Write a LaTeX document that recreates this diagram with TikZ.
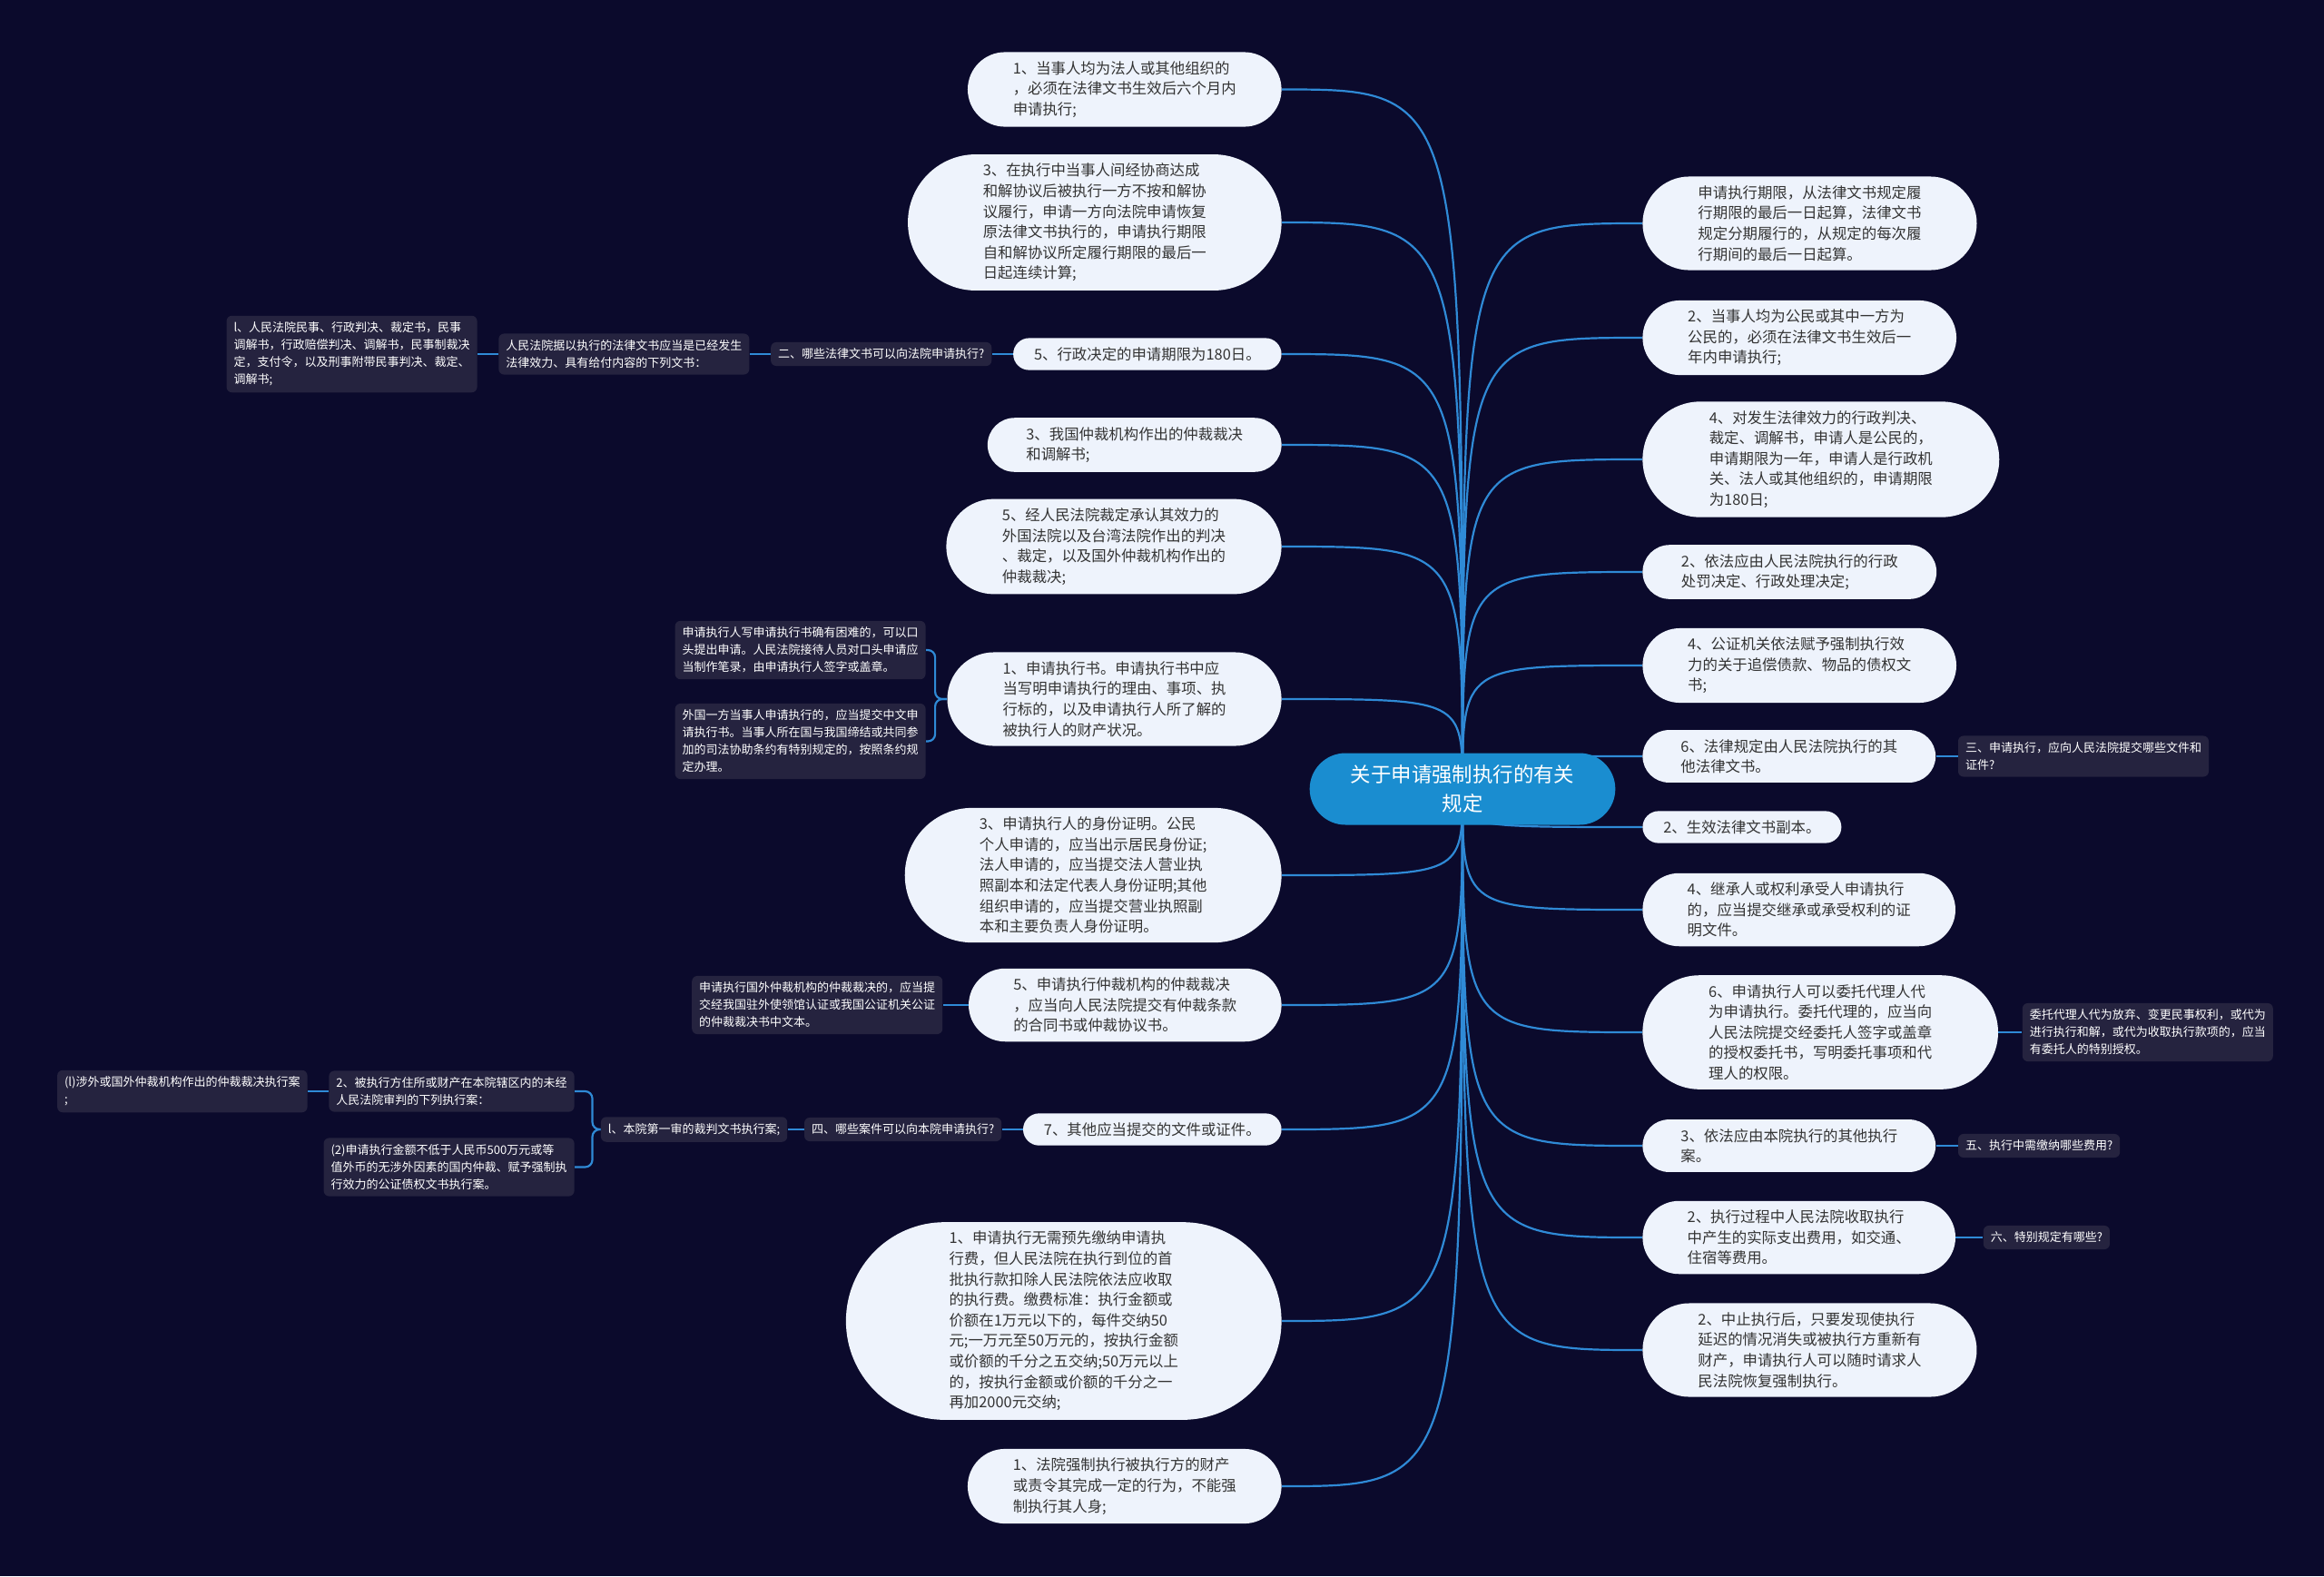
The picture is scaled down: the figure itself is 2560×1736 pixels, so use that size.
\documentclass[tikz,border=0pt]{standalone}
\usepackage{fontspec}
\setmainfont{Noto Sans CJK SC}
\usepackage{tikz}
\usetikzlibrary{positioning,shapes.misc}
\usepackage{xcolor}
\definecolor{bgnavy}{HTML}{0B0A2C}
\definecolor{pillfill}{HTML}{EEF3FC}
\definecolor{pilltext}{HTML}{333333}
\definecolor{boxfill}{HTML}{25233F}
\definecolor{linkblue}{HTML}{2F8AD6}
\definecolor{rootblue}{HTML}{1A8DD0}
\pgfdeclarelayer{back}
\pgfdeclarelayer{links}
\pgfsetlayers{back,links,main}

\begin{document}
\begin{tikzpicture}[x=0.5pt,y=-0.5pt,node distance=11.5pt,
  pill/.style={rounded rectangle,fill=pillfill,text=pilltext,inner xsep=#1,inner ysep=5pt,align=left,font=\fontsize{8.2pt}{11.3pt}\selectfont},
  qbox/.style={rectangle,rounded corners=3pt,fill=boxfill,text=white,inner xsep=4pt,inner ysep=3.5pt,align=left,font=\fontsize{6.5pt}{9.5pt}\selectfont},
  root/.style={rounded rectangle,fill=rootblue,text=white,align=center,minimum width=175pt,minimum height=39.5pt,font=\fontsize{11.2pt}{16pt}\selectfont},
  link/.style={draw=linkblue,line width=1.1pt}]
  \useasboundingbox (0,0) rectangle (2560,1736);
  \begin{pgfonlayer}{back}
    \fill[bgnavy] (0,0) rectangle (2560,1736);
  \end{pgfonlayer}

  \node[root] (root) at (1611,869) {关于申请强制执行的有关\\规定};

  % left side
  \node[pill=17.8pt,anchor=east] (l1) at (1412,98.5) {1、当事人均为法人或其他组织的\\，必须在法律文书生效后六个月内\\申请执行;};
  \node[pill=22.6pt,anchor=east] (l2) at (1412,245) {3、在执行中当事人间经协商达成\\和解协议后被执行一方不按和解协\\议履行，申请一方向法院申请恢复\\原法律文书执行的，申请执行期限\\自和解协议所定履行期限的最后一\\日起连续计算;};
  \node[pill=10.6pt,anchor=east] (l3) at (1412,390) {5、行政决定的申请期限为180日。};
  \node[qbox,left=of l3] (q2) {二、哪些法律文书可以向法院申请执行?};
  \node[qbox,left=of q2] (doc2) {人民法院据以执行的法律文书应当是已经发生\\法律效力、具有给付内容的下列文书：};
  \node[qbox,left=of doc2] (list2) {l、人民法院民事、行政判决、裁定书，民事\\调解书，行政赔偿判决、调解书，民事制裁决\\定，支付令，以及刑事附带民事判决、裁定、\\调解书;};
  \node[pill=17.5pt,anchor=east] (l4) at (1412,490) {3、我国仲裁机构作出的仲裁裁决\\和调解书;};
  \node[pill=20pt,anchor=east] (l5) at (1412,602) {5、经人民法院裁定承认其效力的\\外国法院以及台湾法院作出的判决\\、裁定，以及国外仲裁机构作出的\\仲裁裁决;};
  \node[pill=20pt,anchor=east] (l6) at (1412,770) {1、申请执行书。申请执行书中应\\当写明申请执行的理由、事项、执\\行标的，以及申请执行人所了解的\\被执行人的财产状况。};
  \node[qbox,anchor=east] (oral) at (1020,716) {申请执行人写申请执行书确有困难的，可以口\\头提出申请。人民法院接待人员对口头申请应\\当制作笔录，由申请执行人签字或盖章。};
  \node[qbox,anchor=east] (foreign) at (1020,816.5) {外国一方当事人申请执行的，应当提交中文申\\请执行书。当事人所在国与我国缔结或共同参\\加的司法协助条约有特别规定的，按照条约规\\定办理。};
  \node[pill=22.6pt,anchor=east] (l7) at (1412,964) {3、申请执行人的身份证明。公民\\个人申请的，应当出示居民身份证;\\法人申请的，应当提交法人营业执\\照副本和法定代表人身份证明;其他\\组织申请的，应当提交营业执照副\\本和主要负责人身份证明。};
  \node[pill=17.8pt,anchor=east] (l8) at (1412,1107) {5、申请执行仲裁机构的仲裁裁决\\，应当向人民法院提交有仲裁条款\\的合同书或仲裁协议书。};
  \node[qbox,left=14pt of l8] (arbtext) {申请执行国外仲裁机构的仲裁裁决的，应当提\\交经我国驻外使领馆认证或我国公证机关公证\\的仲裁裁决书中文本。};
  \node[pill=10.6pt,anchor=east] (l9) at (1412,1244) {7、其他应当提交的文件或证件。};
  \node[qbox,left=of l9] (q4) {四、哪些案件可以向本院申请执行?};
  \node[qbox,left=9pt of q4] (case1) {l、本院第一审的裁判文书执行案;};
  \node[qbox,anchor=east] (case2) at (633,1202) {2、被执行方住所或财产在本院辖区内的未经\\人民法院审判的下列执行案：};
  \node[qbox,left=of case2] (case2a) {(l)涉外或国外仲裁机构作出的仲裁裁决执行案\\;};
  \node[qbox,anchor=east] (case3) at (633,1285.5) {(2)申请执行金额不低于人民币500万元或等\\值外币的无涉外因素的国内仲裁、赋予强制执\\行效力的公证债权文书执行案。};
  \node[pill=25.2pt,anchor=east] (l10) at (1412,1455) {1、申请执行无需预先缴纳申请执\\行费，但人民法院在执行到位的首\\批执行款扣除人民法院依法应收取\\的执行费。缴费标准：执行金额或\\价额在1万元以下的，每件交纳50\\元;一万元至50万元的，按执行金额\\或价额的千分之五交纳;50万元以上\\的，按执行金额或价额的千分之一\\再加2000元交纳;};
  \node[pill=17.8pt,anchor=east] (l11) at (1412,1637) {1、法院强制执行被执行方的财产\\或责令其完成一定的行为，不能强\\制执行其人身;};

  % right side
  \node[pill=20pt,anchor=west] (r1) at (1809,246) {申请执行期限，从法律文书规定履\\行期限的最后一日起算，法律文书\\规定分期履行的，从规定的每次履\\行期间的最后一日起算。};
  \node[pill=17.8pt,anchor=west] (r2) at (1809,372) {2、当事人均为公民或其中一方为\\公民的，必须在法律文书生效后一\\年内申请执行;};
  \node[pill=22pt,anchor=west] (r3) at (1809,506) {4、对发生法律效力的行政判决、\\裁定、调解书，申请人是公民的，\\申请期限为一年，申请人是行政机\\关、法人或其他组织的，申请期限\\为180日;};
  \node[pill=17.5pt,anchor=west] (r4) at (1809,630) {2、依法应由人民法院执行的行政\\处罚决定、行政处理决定;};
  \node[pill=17.8pt,anchor=west] (r5) at (1809,733) {4、公证机关依法赋予强制执行效\\力的关于追偿债款、物品的债权文\\书;};
  \node[pill=17.5pt,anchor=west] (r6) at (1809,833) {6、法律规定由人民法院执行的其\\他法律文书。};
  \node[qbox,right=12pt of r6] (q3) {三、申请执行，应向人民法院提交哪些文件和\\证件?};
  \node[pill=10.6pt,anchor=west] (r7) at (1809,911) {2、生效法律文书副本。};
  \node[pill=17.8pt,anchor=west] (r8) at (1809,1002) {4、继承人或权利承受人申请执行\\的，应当提交继承或承受权利的证\\明文件。};
  \node[pill=22pt,anchor=west] (r9) at (1809,1137) {6、申请执行人可以委托代理人代\\为申请执行。委托代理的，应当向\\人民法院提交经委托人签字或盖章\\的授权委托书，写明委托事项和代\\理人的权限。};
  \node[qbox,right=13pt of r9] (proxy) {委托代理人代为放弃、变更民事权利，或代为\\进行执行和解，或代为收取执行款项的，应当\\有委托人的特别授权。};
  \node[pill=17.5pt,anchor=west] (r10) at (1809,1262) {3、依法应由本院执行的其他执行\\案。};
  \node[qbox,right=12pt of r10] (q5) {五、执行中需缴纳哪些费用?};
  \node[pill=17.8pt,anchor=west] (r11) at (1809,1363) {2、执行过程中人民法院收取执行\\中产生的实际支出费用，如交通、\\住宿等费用。};
  \node[qbox,right=15pt of r11] (q6) {六、特别规定有哪些?};
  \node[pill=20pt,anchor=west] (r12) at (1809,1487) {2、中止执行后，只要发现使执行\\延迟的情况消失或被执行方重新有\\财产，申请执行人可以随时请求人\\民法院恢复强制执行。};

  \begin{pgfonlayer}{links}
    % branches from the root
    \draw[link] (root.center) .. controls (root.center |- l1.east) .. (l1.east);
    \draw[link] (root.center) .. controls (root.center |- l2.east) .. (l2.east);
    \draw[link] (root.center) .. controls (root.center |- l3.east) .. (l3.east);
    \draw[link] (root.center) .. controls (root.center |- l4.east) .. (l4.east);
    \draw[link] (root.center) .. controls (root.center |- l5.east) .. (l5.east);
    \draw[link] (root.center) .. controls (root.center |- l6.east) .. (l6.east);
    \draw[link] (root.center) .. controls (root.center |- l7.east) .. (l7.east);
    \draw[link] (root.center) .. controls (root.center |- l8.east) .. (l8.east);
    \draw[link] (root.center) .. controls (root.center |- l9.east) .. (l9.east);
    \draw[link] (root.center) .. controls (root.center |- l10.east) .. (l10.east);
    \draw[link] (root.center) .. controls (root.center |- l11.east) .. (l11.east);
    \draw[link] (root.center) .. controls (root.center |- r1.west) .. (r1.west);
    \draw[link] (root.center) .. controls (root.center |- r2.west) .. (r2.west);
    \draw[link] (root.center) .. controls (root.center |- r3.west) .. (r3.west);
    \draw[link] (root.center) .. controls (root.center |- r4.west) .. (r4.west);
    \draw[link] (root.center) .. controls (root.center |- r5.west) .. (r5.west);
    \draw[link] (root.center) .. controls (root.center |- r6.west) .. (r6.west);
    \draw[link] (root.center) .. controls (root.center |- r7.west) .. (r7.west);
    \draw[link] (root.center) .. controls (root.center |- r8.west) .. (r8.west);
    \draw[link] (root.center) .. controls (root.center |- r9.west) .. (r9.west);
    \draw[link] (root.center) .. controls (root.center |- r10.west) .. (r10.west);
    \draw[link] (root.center) .. controls (root.center |- r11.west) .. (r11.west);
    \draw[link] (root.center) .. controls (root.center |- r12.west) .. (r12.west);
    % sub branches
    \draw[link] (l3.west) -- (q2.east);
    \draw[link] (q2.west) -- (doc2.east);
    \draw[link] (doc2.west) -- (list2.east);
    \draw[link,rounded corners=4pt] (l6.west) -- ++(-13,0) |- (oral.east);
    \draw[link,rounded corners=4pt] (l6.west) -- ++(-13,0) |- (foreign.east);
    \draw[link] (l8.west) -- (arbtext.east);
    \draw[link] (l9.west) -- (q4.east);
    \draw[link] (q4.west) -- (case1.east);
    \draw[link,rounded corners=4pt] (case1.west) -- ++(-9,0) |- (case2.east);
    \draw[link,rounded corners=4pt] (case1.west) -- ++(-9,0) |- (case3.east);
    \draw[link] (case2.west) -- (case2a.east);
    \draw[link] (r6.east) -- (q3.west);
    \draw[link] (r9.east) -- (proxy.west);
    \draw[link] (r10.east) -- (q5.west);
    \draw[link] (r11.east) -- (q6.west);
  \end{pgfonlayer}
\end{tikzpicture}
\end{document}
